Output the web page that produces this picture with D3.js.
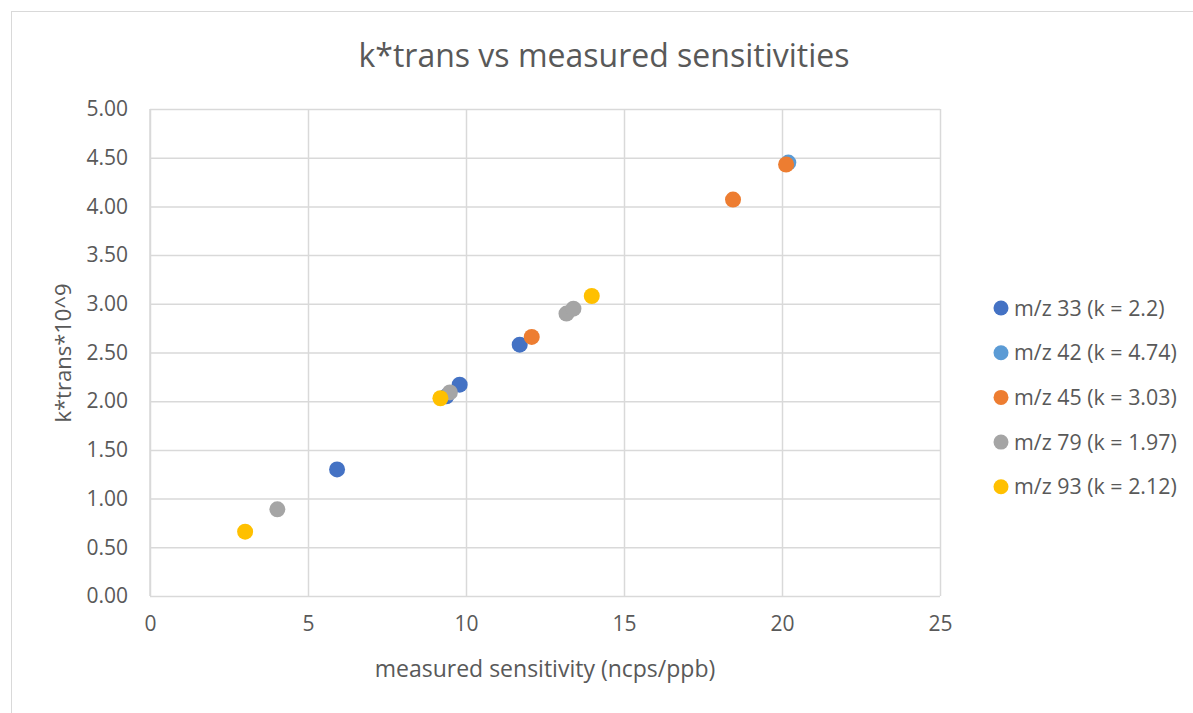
<!DOCTYPE html>
<html>
<head>
<meta charset="utf-8">
<script src="https://cdn.jsdelivr.net/npm/d3@7"></script>
<style>
  body { margin: 0; background: #fff; }
  text { font-family: "Open Sans", "Liberation Sans", sans-serif; fill: #595959; }
</style>
</head>
<body>
<div id="chart"></div>
<script>
// series
var seriesNames = ["m/z 33 (k = 2.2)", "m/z 42 (k = 4.74)", "m/z 45 (k = 3.03)", "m/z 79 (k = 1.97)", "m/z 93 (k = 2.12)"];
var seriesColors = ["#4472C4", "#5B9BD5", "#ED7D31", "#A5A5A5", "#FFC000"];

var mz33x = [5.92, 9.38, 9.80, 11.70];
var mz33y = [1.30, 2.05, 2.17, 2.58];
var mz42x = [20.20];
var mz42y = [4.45];
var mz45x = [12.08, 18.45, 20.13];
var mz45y = [2.66, 4.07, 4.43];
var mz79x = [4.03, 9.49, 13.18, 13.40];
var mz79y = [0.89, 2.09, 2.90, 2.95];
var mz93x = [3.01, 9.19, 13.98];
var mz93y = [0.66, 2.03, 3.08];

var xTicks = [0, 5, 10, 15, 20, 25];
var yTicks = [0, 0.5, 1, 1.5, 2, 2.5, 3, 3.5, 4, 4.5, 5];

var width = 1193, height = 713;
var margin = { top: 109, left: 150, bottom: 117, right: 253 };

var svg = d3.select("#chart").append("svg")
    .attr("width", width)
    .attr("height", height);

// chart frame
svg.append("rect")
    .attr("x", 11.5).attr("y", 11.5)
    .attr("width", 1200).attr("height", 720)
    .attr("fill", "#fff")
    .attr("stroke", "#D9D9D9")
    .attr("stroke-width", 1);

var xScale = d3.scaleLinear()
    .domain([0, 25])
    .range([margin.left, width - margin.right]);

var yScale = d3.scaleLinear()
    .domain([0, 5])
    .range([height - margin.bottom, margin.top]);

// gridlines
svg.append("g")
    .attr("transform", "translate(0," + margin.top + ")")
    .call(d3.axisBottom(xScale).tickValues(xTicks).tickSize(yScale(0) - margin.top).tickFormat(""))
    .call(function (g) { g.select(".domain").remove(); })
    .selectAll("line").attr("stroke", "#D9D9D9").attr("stroke-width", 1.5);

svg.append("g")
    .attr("transform", "translate(" + margin.left + ",0)")
    .call(d3.axisRight(yScale).tickValues(yTicks).tickSize(xScale(25) - margin.left).tickFormat(""))
    .call(function (g) { g.select(".domain").remove(); })
    .selectAll("line").attr("stroke", "#D9D9D9").attr("stroke-width", 1.5);

// tick labels
var xAxis = svg.append("g")
    .attr("transform", "translate(0," + yScale(0) + ")")
    .call(d3.axisBottom(xScale).tickValues(xTicks).tickSize(0).tickPadding(20).tickFormat(d3.format("d")));
xAxis.select(".domain").remove();
xAxis.selectAll("text").style("font-size", "21px").attr("fill", "#595959");

var yAxis = svg.append("g")
    .attr("transform", "translate(" + margin.left + ",0)")
    .call(d3.axisLeft(yScale).tickValues(yTicks).tickSize(0).tickPadding(22).tickFormat(d3.format(".2f")));
yAxis.select(".domain").remove();
yAxis.selectAll("text").style("font-size", "21px").attr("fill", "#595959");

// left axis line
svg.append("line")
    .attr("x1", margin.left).attr("x2", margin.left)
    .attr("y1", yScale(0)).attr("y2", yScale(5))
    .attr("stroke", "#D9D9D9").attr("stroke-width", 1.5);

// points
var allSeries = [[mz33x, mz33y], [mz42x, mz42y], [mz45x, mz45y], [mz79x, mz79y], [mz93x, mz93y]];

allSeries.forEach(function (s, i) {
    var pts = s[0].map(function (x, j) { return { x: x, y: s[1][j] }; });
    svg.append("g").selectAll("circle")
        .data(pts)
        .enter().append("circle")
        .attr("cx", function (d) { return xScale(d.x); })
        .attr("cy", function (d) { return yScale(d.y); })
        .attr("r", 8)
        .attr("fill", seriesColors[i]);
});

// titles
svg.append("text")
    .attr("x", 604).attr("y", 67)
    .attr("text-anchor", "middle")
    .style("font-size", "32px")
    .text("k*trans vs measured sensitivities");

svg.append("text")
    .attr("x", 545).attr("y", 677)
    .attr("text-anchor", "middle")
    .style("font-size", "23px")
    .text("measured sensitivity (ncps/ppb)");

svg.append("text")
    .attr("transform", "translate(71,353) rotate(-90)")
    .attr("text-anchor", "middle")
    .style("font-size", "22px")
    .text("k*trans*10^9");

// legend
var legend = svg.append("g").selectAll("g")
    .data(seriesNames)
    .enter().append("g")
    .attr("transform", function (d, i) { return "translate(1001," + (308 + i * 44.7) + ")"; });

legend.append("circle")
    .attr("r", 7.5)
    .attr("fill", function (d, i) { return seriesColors[i]; });

legend.append("text")
    .attr("x", 13)
    .attr("dy", "0.35em")
    .style("font-size", "21.4px")
    .text(function (d) { return d; });
</script>
</body>
</html>
